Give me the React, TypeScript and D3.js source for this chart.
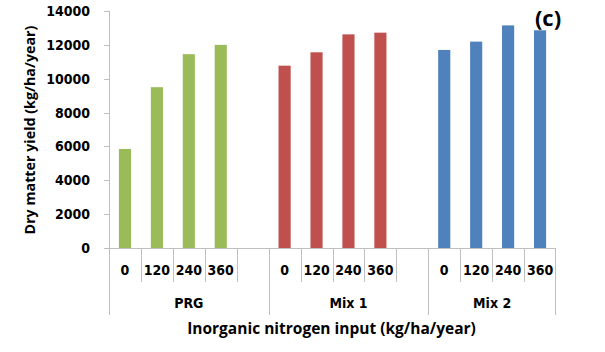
import React from "react";
import * as d3 from "d3";

const groups = ["PRG", "Mix 1", "Mix 2"];
const nLevels = ["0", "120", "240", "360"];
const prgValues = [5850, 9500, 11450, 12000];
const mix1Values = [10770, 11560, 12620, 12720];
const mix2Values = [11700, 12190, 13150, 12860];
const groupColors = ["#9BBB59", "#C0504D", "#4F81BD"];
const yTicks = [0, 2000, 4000, 6000, 8000, 10000, 12000, 14000];
const yTitle = "Dry matter yield (kg/ha/year)";
const xTitle = "Inorganic nitrogen input (kg/ha/year)";
const panelLabel = "(c)";

const W = 605;
const H = 352;
const TICK_FONT = "'DejaVu Sans Condensed', 'DejaVu Sans', sans-serif";
const TITLE_FONT = "'Open Sans', sans-serif";

type Slot = { key: string; group: number; level: number | null; value: number | null };

export default function App() {
  const seriesValues = [prgValues, mix1Values, mix2Values];
  const slots: Slot[] = [];
  groups.forEach((g, gi) => {
    nLevels.forEach((lv, li) => {
      slots.push({ key: `${gi}-${li}`, group: gi, level: li, value: seriesValues[gi][li] });
    });
    if (gi < groups.length - 1) slots.push({ key: `${gi}-gap`, group: gi, level: null, value: null });
  });

  const left = 109;
  const right = 556;
  const top = 11;
  const bottom = 248;

  const x = d3.scaleBand<string>().domain(slots.map((s) => s.key)).range([left, right]).padding(0);
  const y = d3.scaleLinear().domain([0, 14000]).range([bottom, top]);
  const bw = x.bandwidth();
  const barW = bw * 0.38;
  const gridColor = "#BFBFBF";

  const groupExtents = groups.map((_, gi) => {
    const gs = slots.filter((s) => s.group === gi);
    const x0 = x(gs[0].key)!;
    const x1 = x(gs[gs.length - 1].key)! + bw;
    return [x0, x1];
  });

  return (
    <svg width={W} height={H} style={{ position: "absolute", left: 0, top: 0, background: "#fff" }}>
      <rect x={0} y={0} width={W} height={H} fill="#fff" />
      <line x1={left + 0.5} x2={left + 0.5} y1={top} y2={bottom} stroke={gridColor} strokeWidth={1} />
      {yTicks.map((t) => (
        <g key={t}>
          <line x1={left - 5} x2={left} y1={Math.round(y(t)) + 0.5} y2={Math.round(y(t)) + 0.5} stroke={gridColor} />
          <text
            x={90}
            y={y(t)}
            dy="0.36em"
            textAnchor="end"
            fontSize={14}
            fontWeight="bold"
            fontFamily={TICK_FONT}
            fill="#000"
          >
            {t}
          </text>
        </g>
      ))}
      {slots
        .filter((s) => s.value !== null)
        .map((s) => (
          <rect
            key={s.key}
            x={x(s.key)! + (bw - barW) / 2}
            y={y(s.value!)}
            width={barW}
            height={y(0) - y(s.value!)}
            fill={groupColors[s.group]}
          />
        ))}
      <line x1={left} x2={right} y1={bottom + 0.5} y2={bottom + 0.5} stroke={gridColor} />
      {slots.map((s, i) => {
        const xx = Math.round(x(s.key)!) + 0.5;
        const isGroupStart = i === 0 || slots[i - 1].group !== s.group;
        return (
          <line key={`sep-${s.key}`} x1={xx} x2={xx} y1={bottom} y2={isGroupStart ? 315 : 282} stroke={gridColor} />
        );
      })}
      <line x1={Math.round(right) - 0.5} x2={Math.round(right) - 0.5} y1={bottom} y2={315} stroke={gridColor} />
      {slots
        .filter((s) => s.level !== null)
        .map((s) => (
          <text
            key={`lbl-${s.key}`}
            x={x(s.key)! + bw / 2}
            y={270}
            dy="0.36em"
            textAnchor="middle"
            fontSize={14}
            fontWeight="bold"
            fontFamily={TICK_FONT}
            fill="#000"
          >
            {nLevels[s.level!]}
          </text>
        ))}
      {groups.map((g, gi) => (
        <text
          key={g}
          x={(groupExtents[gi][0] + groupExtents[gi][1]) / 2}
          y={303}
          dy="0.36em"
          textAnchor="middle"
          fontSize={14}
          fontWeight="bold"
          fontFamily={TICK_FONT}
          fill="#000"
        >
          {g}
        </text>
      ))}
      <text
        x={331.5}
        y={328}
        dy="0.36em"
        textAnchor="middle"
        fontSize={15.5}
        fontWeight="bold"
        fontFamily={TITLE_FONT}
        fill="#000"
      >
        {xTitle}
      </text>
      <text
        transform={`translate(30,130) rotate(-90)`}
        dy="0.36em"
        textAnchor="middle"
        fontSize={14.3}
        fontWeight="bold"
        fontFamily={TITLE_FONT}
        fill="#000"
      >
        {yTitle}
      </text>
      <text
        x={548}
        y={18}
        dy="0.36em"
        textAnchor="middle"
        fontSize={22}
        fontWeight="bold"
        fontFamily={TITLE_FONT}
        fill="#000"
      >
        {panelLabel}
      </text>
    </svg>
  );
}
